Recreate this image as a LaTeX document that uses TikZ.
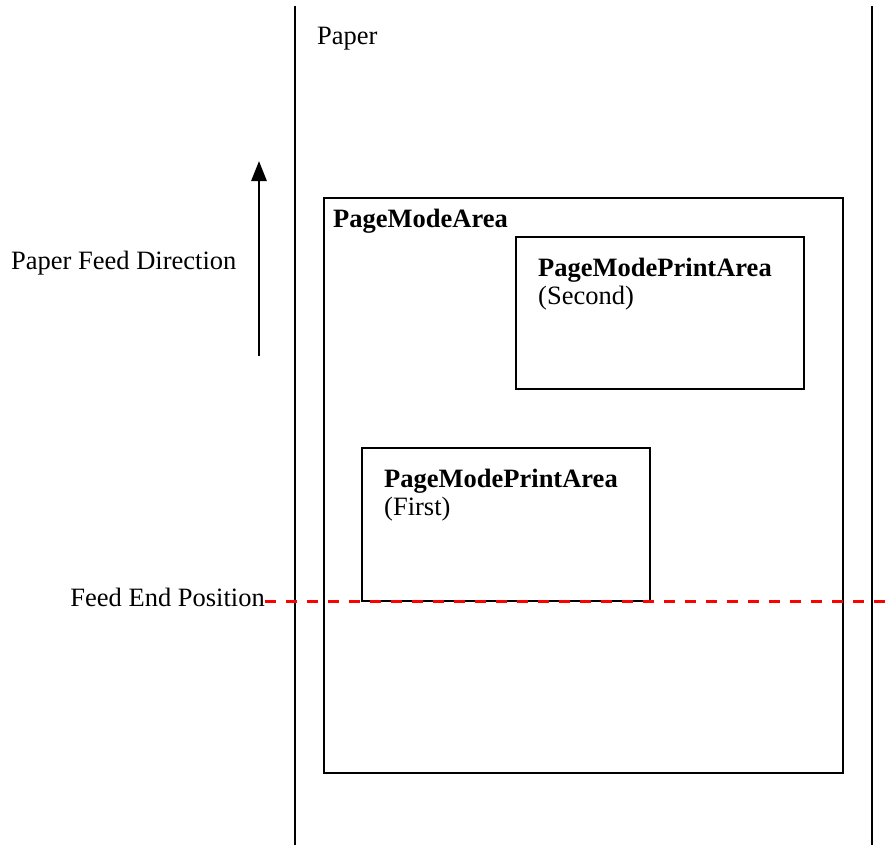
\documentclass[tikz,border=0pt]{standalone}
\usepackage{fontspec}
\setmainfont{Liberation Serif}
\usepackage{xcolor}
\usepackage{tikz}
\usetikzlibrary{arrows.meta,positioning}
\definecolor{pmred}{RGB}{255,0,0}
\tikzset{
  pmbox/.style={draw=black, line width=2.2pt, minimum width=#1, inner sep=0pt},
  pmtext/.style={inner sep=0pt, anchor=base west, align=left,
    font=\fontsize{26.5}{28.5}\selectfont},
  pmedge/.style={draw=black, line width=2.2pt},
  pmfeed/.style={-{Triangle[length=20pt,width=15pt]}, line width=2.8pt},
  pmend/.style={draw=pmred, dashed, dash pattern=on 11pt off 10pt, line width=3pt}
}

\begin{document}
\begin{tikzpicture}[x=1pt,y=-1pt]
  \useasboundingbox (0,0) rectangle (893,845);
  % paper edges
  \coordinate (pLt) at (295,6);
  \coordinate (pLb) at (295,845);
  \coordinate (pRt) at (872,6);
  \coordinate (pRb) at (872,845);
  \draw[pmedge] (pLt) -- (pLb);
  \draw[pmedge] (pRt) -- (pRb);
  \node[pmtext] (paper) at (317,45) {Paper};
  % areas
  \node[pmbox=519pt, minimum height=575pt] (area) at (583.5,485.5) {};
  \node[pmbox=288pt, minimum height=152pt] (second) at (660,313) {};
  \node[pmbox=288pt, minimum height=153pt] (first) at (506,524.5) {};
  \node[pmtext] (areaT) at (333,227) {\textbf{PageModeArea}};
  \node[pmtext] (secondT) at (538,304.5) {\textbf{PageModePrintArea}\\(Second)};
  \node[pmtext] (firstT) at (384,515.5) {\textbf{PageModePrintArea}\\(First)};
  % feed direction
  \node[pmtext] (feedT) at (11,269) {Paper Feed Direction};
  \coordinate (fB) at (259,356);
  \coordinate (fT) at (259,161);
  \draw[pmfeed] (fB) -- (fT);
  % feed end
  \node[pmtext, anchor=base east] (endT) at (265,606) {Feed End Position};
  \coordinate (eR) at (885,601);
  \draw[pmend] (endT.east |- eR) -- (eR);
\end{tikzpicture}
\end{document}
